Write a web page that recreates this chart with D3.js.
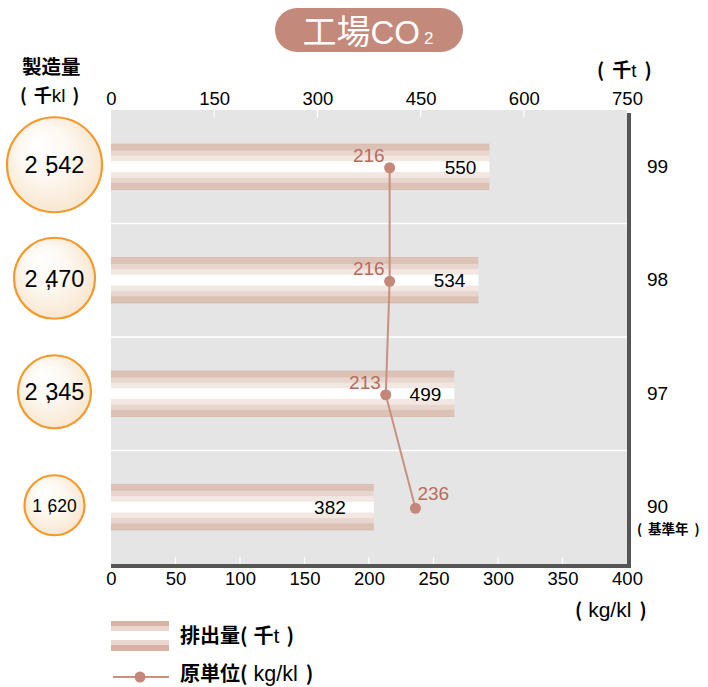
<!DOCTYPE html>
<html>
<head>
<meta charset="utf-8">
<script src="https://cdn.jsdelivr.net/npm/d3@7"></script>
<style>
  html, body { margin: 0; padding: 0; background: #ffffff; }
  svg { display: block; }
</style>
</head>
<body>
<svg id="chart" width="708" height="687"></svg>
<script>
// ---- data ----
const years = ["99", "98", "97", "90"];
const yearNotes = ["", "", "", "基準年"];
const production = [2542, 2470, 2345, 1620];   // 製造量 (千kl)
const emissions = [550, 534, 499, 382];        // 排出量 (千t)
const intensity = [216, 216, 213, 236];        // 原単位 (kg/kl)
const topTicks = [0, 150, 300, 450, 600, 750];
const bottomTicks = [0, 50, 100, 150, 200, 250, 300, 350, 400];

const rows = years.map((y, i) => ({
  year: y, note: yearNotes[i], prod: production[i], emis: emissions[i], inten: intensity[i]
}));

const svg = d3.select("#chart");
const NUM_FONT = "'Liberation Sans', Arial, sans-serif";
const JP_FONT = "'Noto Sans CJK JP', 'Noto Sans', sans-serif";

const L = 111, R = 627, T = 110, B = 564;
const xTop = d3.scaleLinear().domain([0, 750]).range([L, R]);
const xBot = d3.scaleLinear().domain([0, 400]).range([L, R]);
const y = d3.scaleBand().domain(years).range([T, B]);
const rScale = d3.scaleLinear().domain([1620, 2345, 2470, 2542]).range([30, 36.5, 40.5, 47.5]);

const defs = svg.append("defs");
const grad = defs.append("radialGradient").attr("id", "circGrad")
  .attr("cx", "50%").attr("cy", "50%").attr("r", "60%")
  .attr("fx", "30%").attr("fy", "25%");
grad.append("stop").attr("offset", "0%").attr("stop-color", "#ffffff");
grad.append("stop").attr("offset", "45%").attr("stop-color", "#fdf8f1");
grad.append("stop").attr("offset", "100%").attr("stop-color", "#f7e3c8");

// ---- title pill ----
svg.append("rect").attr("x", 275).attr("y", 8).attr("width", 188).attr("height", 44)
  .attr("rx", 22).attr("fill", "#c3897a");
const title = svg.append("text").attr("x", 368).attr("y", 44).attr("text-anchor", "middle")
  .attr("fill", "#ffffff").attr("font-family", JP_FONT).attr("font-size", 34);
title.append("tspan").text("工場");
title.append("tspan").attr("font-family", NUM_FONT).attr("font-size", 33).text("CO");
title.append("tspan").attr("font-family", NUM_FONT).attr("font-size", 17).attr("dx", 4).text("2");

// ---- plot background ----
svg.append("rect").attr("x", L).attr("y", T).attr("width", R - L).attr("height", B - T)
  .attr("fill", "#e5e5e5");

// band separators
svg.append("g").selectAll("line").data(years.slice(1)).join("line")
  .attr("x1", L).attr("x2", R)
  .attr("y1", d => y(d)).attr("y2", d => y(d))
  .attr("stroke", "#ffffff").attr("stroke-width", 1.5);

// white tick marks (top and bottom)
svg.append("g").selectAll("line").data(topTicks.filter(d => d > 0 && d < 750)).join("line")
  .attr("x1", d => xTop(d)).attr("x2", d => xTop(d))
  .attr("y1", T).attr("y2", T + 7).attr("stroke", "#ffffff").attr("stroke-width", 1.2);
svg.append("g").selectAll("line").data(bottomTicks.filter(d => d > 0 && d < 400)).join("line")
  .attr("x1", d => xBot(d)).attr("x2", d => xBot(d))
  .attr("y1", B - 7).attr("y2", B).attr("stroke", "#ffffff").attr("stroke-width", 1.2);

// dark frame right + bottom
svg.append("line").attr("x1", R + 2).attr("x2", R + 2).attr("y1", T + 3).attr("y2", B + 4)
  .attr("stroke", "#555555").attr("stroke-width", 4);
svg.append("line").attr("x1", L).attr("x2", R + 4).attr("y1", B + 2).attr("y2", B + 2)
  .attr("stroke", "#555555").attr("stroke-width", 4);

// ---- striped bars ----
const barH = 46;
const stripes = [
  [0, 1, "#d4ae9f"], [1, 7, "#dcc1b5"], [7, 12, "#e8d5cd"], [12, 17.5, "#f3e7e2"],
  [17.5, 28.5, "#ffffff"], [28.5, 34, "#f3e7e2"], [34, 39, "#e8d5cd"], [39, 45, "#dcc1b5"], [45, 46, "#d4ae9f"]
];
const barG = svg.append("g").selectAll("g").data(rows).join("g")
  .attr("transform", d => `translate(0,${y(d.year) + y.bandwidth() / 2 - barH / 2})`);
barG.selectAll("rect").data(d => stripes.map(s => ({ s, d }))).join("rect")
  .attr("x", xTop(0))
  .attr("width", o => xTop(o.d.emis) - xTop(0))
  .attr("y", o => o.s[0]).attr("height", o => o.s[1] - o.s[0])
  .attr("fill", o => o.s[2]);

// bar value labels
svg.append("g").selectAll("text").data(rows).join("text")
  .attr("x", d => xTop(d.emis) - (d.emis < 400 ? 28 : 13))
  .attr("y", d => y(d.year) + y.bandwidth() / 2 + 7)
  .attr("text-anchor", "end").attr("font-family", NUM_FONT).attr("font-size", 19)
  .attr("fill", "#000").text(d => d.emis);

// ---- intensity line ----
const cy = d => y(d.year) + y.bandwidth() / 2 + 1;
const line = d3.line().x(d => xBot(d.inten)).y(cy);
svg.append("path").datum(rows).attr("d", line).attr("fill", "none")
  .attr("stroke", "#c9907f").attr("stroke-width", 2);
svg.append("g").selectAll("circle").data(rows).join("circle")
  .attr("cx", d => xBot(d.inten)).attr("cy", cy).attr("r", 5.5).attr("fill", "#c4887a");
svg.append("g").selectAll("text").data(rows).join("text")
  .attr("x", (d, i) => i === rows.length - 1 ? xBot(d.inten) + 2 : xBot(d.inten) - 5)
  .attr("y", (d, i) => cy(d) - (i === rows.length - 1 ? 8 : 6))
  .attr("text-anchor", (d, i) => i === rows.length - 1 ? "start" : "end")
  .attr("font-family", NUM_FONT).attr("font-size", 19).attr("fill", "#b86c5c")
  .text(d => d.inten);

// ---- production circles ----
const circG = svg.append("g").selectAll("g").data(rows).join("g")
  .attr("transform", d => `translate(54.5,${y(d.year) + y.bandwidth() / 2 - 2})`);
circG.append("circle").attr("r", d => rScale(d.prod))
  .attr("fill", "url(#circGrad)").attr("stroke", "#f39a2e").attr("stroke-width", 2.2);
const fsOf = d => d.prod < 2000 ? 17.5 : 23.5;
circG.append("text")
  .attr("text-anchor", "middle")
  .attr("y", d => fsOf(d) * 0.36)
  .attr("dx", d => { const f = fsOf(d); return `0 ${f * 0.32} ${-f * 0.28} 0 0`; })
  .attr("font-family", NUM_FONT)
  .attr("font-size", fsOf)
  .attr("fill", "#000")
  .text(d => d3.format(",")(d.prod));

// ---- axes ----
const topAxis = d3.axisTop(xTop).tickValues(topTicks).tickSize(0).tickPadding(0);
const gTop = svg.append("g").attr("transform", `translate(0,105)`).call(topAxis);
gTop.select(".domain").remove();
gTop.selectAll("text").attr("font-family", NUM_FONT).attr("font-size", 18.5).attr("fill", "#000")
  .attr("dy", 0);

const botAxis = d3.axisBottom(xBot).tickValues(bottomTicks).tickSize(0).tickPadding(0);
const gBot = svg.append("g").attr("transform", `translate(0,572)`).call(botAxis);
gBot.select(".domain").remove();
gBot.selectAll("text").attr("font-family", NUM_FONT).attr("font-size", 18.5).attr("fill", "#000")
  .attr("dy", "0.71em");

// axis unit labels
svg.append("text").attr("x", 22).attr("y", 74).attr("font-family", JP_FONT).attr("font-weight", "bold")
  .attr("font-size", 19.5).attr("fill", "#000").text("製造量");
const u1 = svg.append("text").attr("x", 20).attr("y", 102).attr("font-family", JP_FONT)
  .attr("font-weight", "bold").attr("font-size", 18).attr("fill", "#000");
u1.append("tspan").text("(");
u1.append("tspan").attr("dx", 7).text("千");
u1.append("tspan").attr("font-family", NUM_FONT).attr("font-weight", "normal").attr("font-size", 19).text("kl");
u1.append("tspan").attr("dx", 7).text(")");

const u2 = svg.append("text").attr("x", 597).attr("y", 77).attr("font-family", JP_FONT)
  .attr("font-weight", "bold").attr("font-size", 19).attr("fill", "#000");
u2.append("tspan").text("(");
u2.append("tspan").attr("dx", 8).text("千");
u2.append("tspan").attr("font-family", NUM_FONT).attr("font-weight", "normal").text("t");
u2.append("tspan").attr("dx", 8).text(")");

const u3 = svg.append("text").attr("x", 575).attr("y", 617).attr("font-family", JP_FONT)
  .attr("font-weight", "bold").attr("font-size", 19).attr("fill", "#000");
u3.append("tspan").text("(");
u3.append("tspan").attr("dx", 6).attr("font-family", NUM_FONT).attr("font-weight", "normal")
  .attr("font-size", 21).text("kg/kl");
u3.append("tspan").attr("dx", 8).text(")");

// year labels on right
svg.append("g").selectAll("text").data(rows).join("text")
  .attr("x", 647).attr("y", d => y(d.year) + y.bandwidth() / 2 + 6)
  .attr("font-family", NUM_FONT).attr("font-size", 19).attr("fill", "#000").text(d => d.year);
const notes = svg.append("g").selectAll("text").data(rows.filter(d => d.note)).join("text")
  .attr("x", 637).attr("y", d => y(d.year) + y.bandwidth() / 2 + 27)
  .attr("font-family", JP_FONT).attr("font-weight", "bold").attr("font-size", 13.5)
  .attr("fill", "#000");
notes.append("tspan").text("(");
notes.append("tspan").attr("dx", 6).text(d => d.note);
notes.append("tspan").attr("dx", 6).text(")");

// ---- legend ----
const lgStripes = [
  [0, 5, "#d8b3a5"], [5, 10, "#ead7cf"], [10, 19, "#ffffff"], [19, 24, "#ead7cf"], [24, 30, "#d8b3a5"]
];
svg.append("g").attr("transform", "translate(111,621)").selectAll("rect").data(lgStripes).join("rect")
  .attr("x", 0).attr("width", 58).attr("y", s => s[0]).attr("height", s => s[1] - s[0])
  .attr("fill", s => s[2]);
const lt1 = svg.append("text").attr("x", 180).attr("y", 643).attr("font-family", JP_FONT)
  .attr("font-weight", "bold").attr("font-size", 20).attr("fill", "#000");
lt1.append("tspan").text("排出量(");
lt1.append("tspan").attr("dx", 6).text("千");
lt1.append("tspan").attr("font-family", NUM_FONT).attr("font-weight", "normal").attr("font-size", 21).text("t");
lt1.append("tspan").attr("dx", 7).text(")");

svg.append("line").attr("x1", 113).attr("x2", 169).attr("y1", 677).attr("y2", 677)
  .attr("stroke", "#c9907f").attr("stroke-width", 2);
svg.append("circle").attr("cx", 140).attr("cy", 677).attr("r", 5.5).attr("fill", "#c4887a");
const lt2 = svg.append("text").attr("x", 180).attr("y", 681).attr("font-family", JP_FONT)
  .attr("font-weight", "bold").attr("font-size", 20).attr("fill", "#000");
lt2.append("tspan").text("原単位(");
lt2.append("tspan").attr("dx", 6).attr("font-family", NUM_FONT).attr("font-weight", "normal")
  .attr("font-size", 21.5).text("kg/kl");
lt2.append("tspan").attr("dx", 8).text(")");
</script>
</body>
</html>
